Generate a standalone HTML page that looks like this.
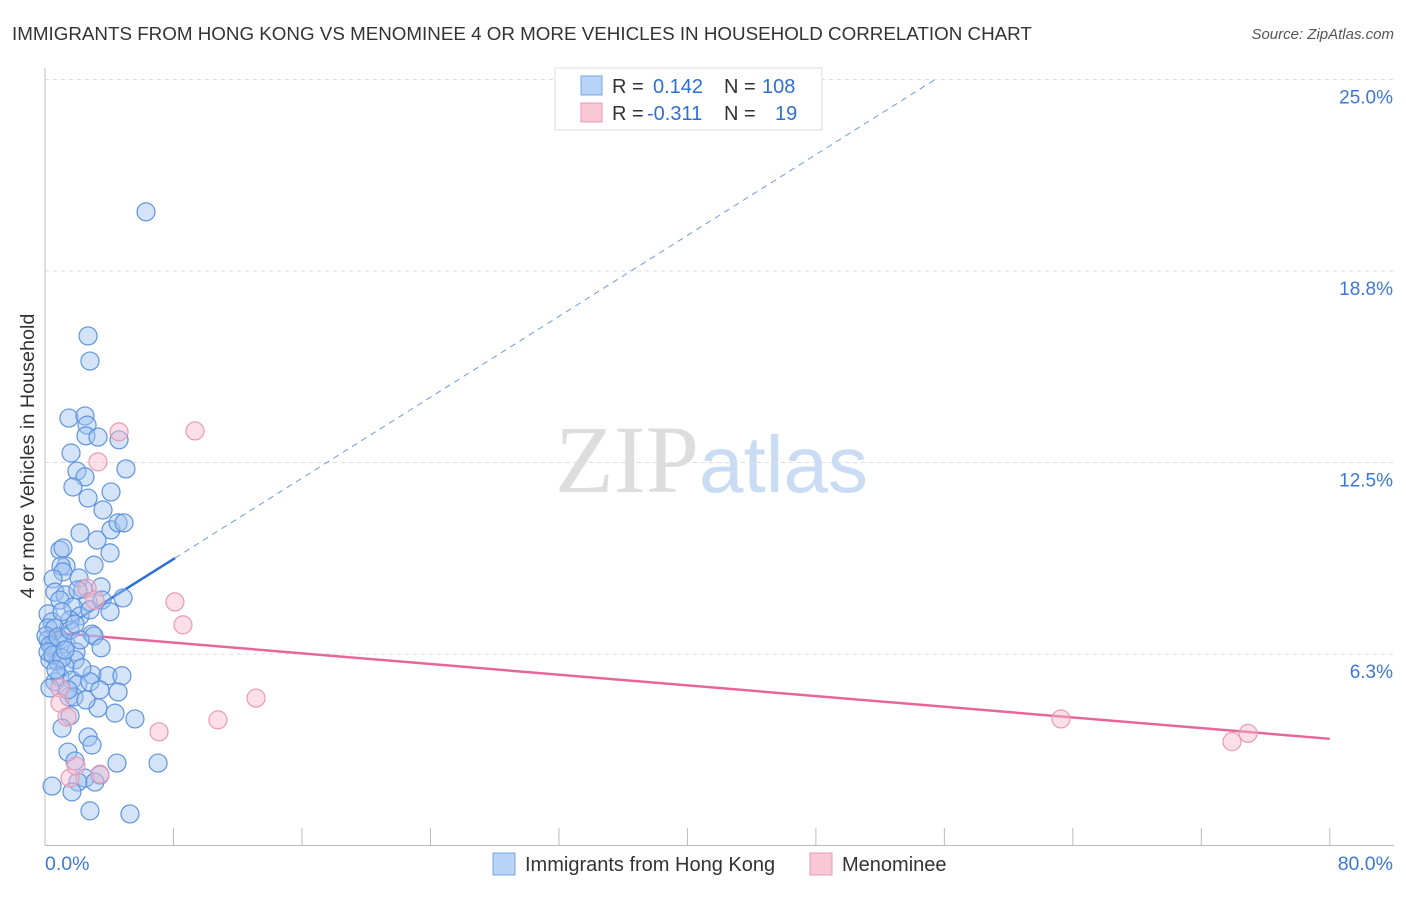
<!DOCTYPE html>
<html><head><meta charset="utf-8"><style>
body{margin:0;background:#fff;width:1406px;height:892px;overflow:hidden;font-family:"Liberation Sans",sans-serif}
</style></head><body>
<svg id="chart" width="1406" height="892" xmlns="http://www.w3.org/2000/svg" font-family="Liberation Sans, sans-serif">
<text x="12" y="40" font-size="18.8" fill="#333">IMMIGRANTS FROM HONG KONG VS MENOMINEE 4 OR MORE VEHICLES IN HOUSEHOLD CORRELATION CHART</text>
<text x="1394" y="39" font-size="15" fill="#555" font-style="italic" text-anchor="end">Source: ZipAtlas.com</text>
<text x="555" y="492" font-size="96" font-family="Liberation Serif, serif" fill="#ddd">ZIP<tspan fill="#c9dcf3" font-family="Liberation Sans, sans-serif" font-size="80">atlas</tspan></text>
<text transform="translate(34,456) rotate(-90)" font-size="19.8" fill="#333" text-anchor="middle">4 or more Vehicles in Household</text>
<g id="grid"></g><g id="axes"></g><g id="trend"></g><g id="pts"></g>
<g>
<rect x="555" y="68" width="267" height="62" fill="#fff" stroke="#ddd"/>
<rect x="581" y="76" width="21" height="19" fill="#b7d3f5" stroke="#7aa7e0"/>
<rect x="581" y="103" width="21" height="19" fill="#f9c8d6" stroke="#eb99b3"/>
<text x="612" y="93" font-size="20" fill="#333">R = <tspan fill="#2f6fd4" x="653">0.142</tspan><tspan x="724" fill="#333">N = </tspan><tspan fill="#2f6fd4" x="762">108</tspan></text>
<text x="612" y="120" font-size="20" fill="#333">R = <tspan fill="#2f6fd4" x="647">-0.311</tspan><tspan x="724" fill="#333">N = </tspan><tspan fill="#2f6fd4" x="775">19</tspan></text>
</g>
<g>
<rect x="493" y="853" width="22" height="22" fill="#b7d3f5" stroke="#7aa7e0"/>
<text x="525" y="871" font-size="20" fill="#333">Immigrants from Hong Kong</text>
<rect x="810" y="853" width="22" height="22" fill="#f9c8d6" stroke="#eb99b3"/>
<text x="842" y="871" font-size="20" fill="#333">Menominee</text>
</g>
</svg>
<script>
const yTicks=[6.25,12.5,18.75,25];
const yTickLabels=["6.3%","12.5%","18.8%","25.0%"];
const xTicks=[0,8,16,24,32,40,48,56,64,72,80];
const xEndLabels=["0.0%","80.0%"];
const blueX=[6.29,2.68,2.80,1.49,2.49,2.62,2.55,3.30,4.61,1.62,5.04,1.99,2.49,1.74,4.11,2.68,3.61,2.18,3.24,4.11,4.55,4.92,0.93,1.12,4.05,1.31,1.00,1.12,3.05,0.50,2.12,3.49,2.37,0.62,1.25,0.93,2.68,4.86,1.74,0.19,2.18,0.44,1.56,0.19,0.62,2.93,3.05,0.93,1.31,3.49,0.19,0.44,1.93,0.31,0.81,1.87,1.25,0.62,0.93,1.68,2.05,2.93,3.92,4.79,2.80,4.55,0.31,1.49,1.81,3.30,4.36,5.60,1.56,1.06,2.68,2.93,1.43,1.87,4.48,7.04,2.49,3.42,2.05,0.44,1.68,3.11,2.80,5.29,0.06,0.31,0.19,0.50,1.06,2.30,0.81,1.56,2.18,1.25,0.68,1.43,2.55,3.42,1.87,2.80,1.06,3.55,2.05,4.05];
const blueY=[20.68,16.63,15.81,13.95,14.02,13.72,13.37,13.33,13.24,12.81,12.29,12.22,12.03,11.70,11.54,11.34,10.95,10.20,9.97,10.30,10.53,10.53,9.64,9.71,9.55,9.12,9.12,8.93,9.15,8.70,8.73,8.44,8.37,8.27,8.18,8.01,7.95,8.08,7.78,7.56,7.49,7.30,7.36,7.10,7.10,6.90,6.84,6.71,6.58,6.45,6.71,6.45,6.32,6.06,6.00,6.06,5.83,5.34,5.50,5.40,5.27,5.57,5.54,5.54,5.34,5.01,5.14,4.85,4.85,4.49,4.32,4.13,4.23,3.83,3.54,3.28,3.05,2.76,2.69,2.69,2.20,2.30,2.07,1.94,1.75,2.07,1.13,1.03,6.84,6.54,6.32,6.22,6.12,5.80,6.81,7.03,6.71,6.38,5.74,5.08,4.75,5.08,7.23,7.69,7.63,8.01,8.34,7.63];
const pinkX=[4.61,9.34,3.30,2.62,3.11,8.09,8.59,0.93,13.14,10.77,7.10,1.56,3.42,1.93,63.26,73.91,74.91,0.93,1.37];
const pinkY=[13.50,13.53,12.52,8.40,8.01,7.95,7.20,5.14,4.81,4.10,3.71,2.20,2.33,2.59,4.13,3.39,3.66,4.65,4.19];
const blueTrend=[6.71,0.330]; // intercept, slope
const blueSolidEnd=8.1, blueDashEnd=55.4;
const pinkTrend=[6.97,-0.0436];
const NS="http://www.w3.org/2000/svg";
const sx=v=>45+v*16.06, sy=v=>845.5-v*30.64;
function mk(p,tag,at){const e=document.createElementNS(NS,tag);for(const k in at)e.setAttribute(k,at[k]);document.getElementById(p).appendChild(e);return e;}
yTicks.forEach((t,i)=>{
 const l=mk('grid','line',{x1:45,x2:1394,y1:sy(t),y2:sy(t),stroke:'#ddd','stroke-dasharray':'4,4'});
 
 
 const tx=mk('grid','text',{x:1393,y:sy(t)+24,'font-size':19,fill:'#3b78d8','text-anchor':'end'});
 tx.textContent=yTickLabels[i];
 
 
});
const ax=mk('axes','line',{x1:45,x2:1394,y1:845.5,y2:845.5,stroke:'#bbb'});


const ay=mk('axes','line',{x1:45,x2:45,y1:68,y2:845.5,stroke:'#bbb'});


xTicks.forEach(t=>{
 const l=mk('axes','line',{x1:sx(t),x2:sx(t),y1:828,y2:845.5,stroke:'#bbb'});
 
 
});
[[0,'start'],[80,'end']].forEach((d,i)=>{
 const tx=mk('axes','text',{x:i?1393:45,y:870,'font-size':19.5,fill:'#3b78d8','text-anchor':d[1]});
 tx.textContent=xEndLabels[i];
 
 
});
blueX.forEach((x,i)=>{
 const c=mk('pts','circle',{cx:sx(x),cy:sy(blueY[i]),r:9,fill:'rgba(160,196,240,0.45)',stroke:'#5f93de','stroke-width':1.2});
 
 
});
pinkX.forEach((x,i)=>{
 const c=mk('pts','circle',{cx:sx(x),cy:sy(pinkY[i]),r:9,fill:'rgba(248,185,205,0.45)',stroke:'#eb99b3','stroke-width':1.2});
 
 
});
const bf=x=>blueTrend[0]+blueTrend[1]*x, pf=x=>pinkTrend[0]+pinkTrend[1]*x;
const t1=mk('trend','line',{x1:sx(0),y1:sy(bf(0)),x2:sx(blueSolidEnd),y2:sy(bf(blueSolidEnd)),stroke:'#2f6fd4','stroke-width':2.5});


const t2=mk('trend','line',{x1:sx(blueSolidEnd),y1:sy(bf(blueSolidEnd)),x2:sx(blueDashEnd),y2:sy(bf(blueDashEnd)),stroke:'#6d9be0','stroke-width':1,'stroke-dasharray':'6,5'});


const t3=mk('trend','line',{x1:sx(0),y1:sy(pf(0)),x2:sx(80),y2:sy(pf(80)),stroke:'#e4679a','stroke-width':2.5});


</script>
</body></html>
